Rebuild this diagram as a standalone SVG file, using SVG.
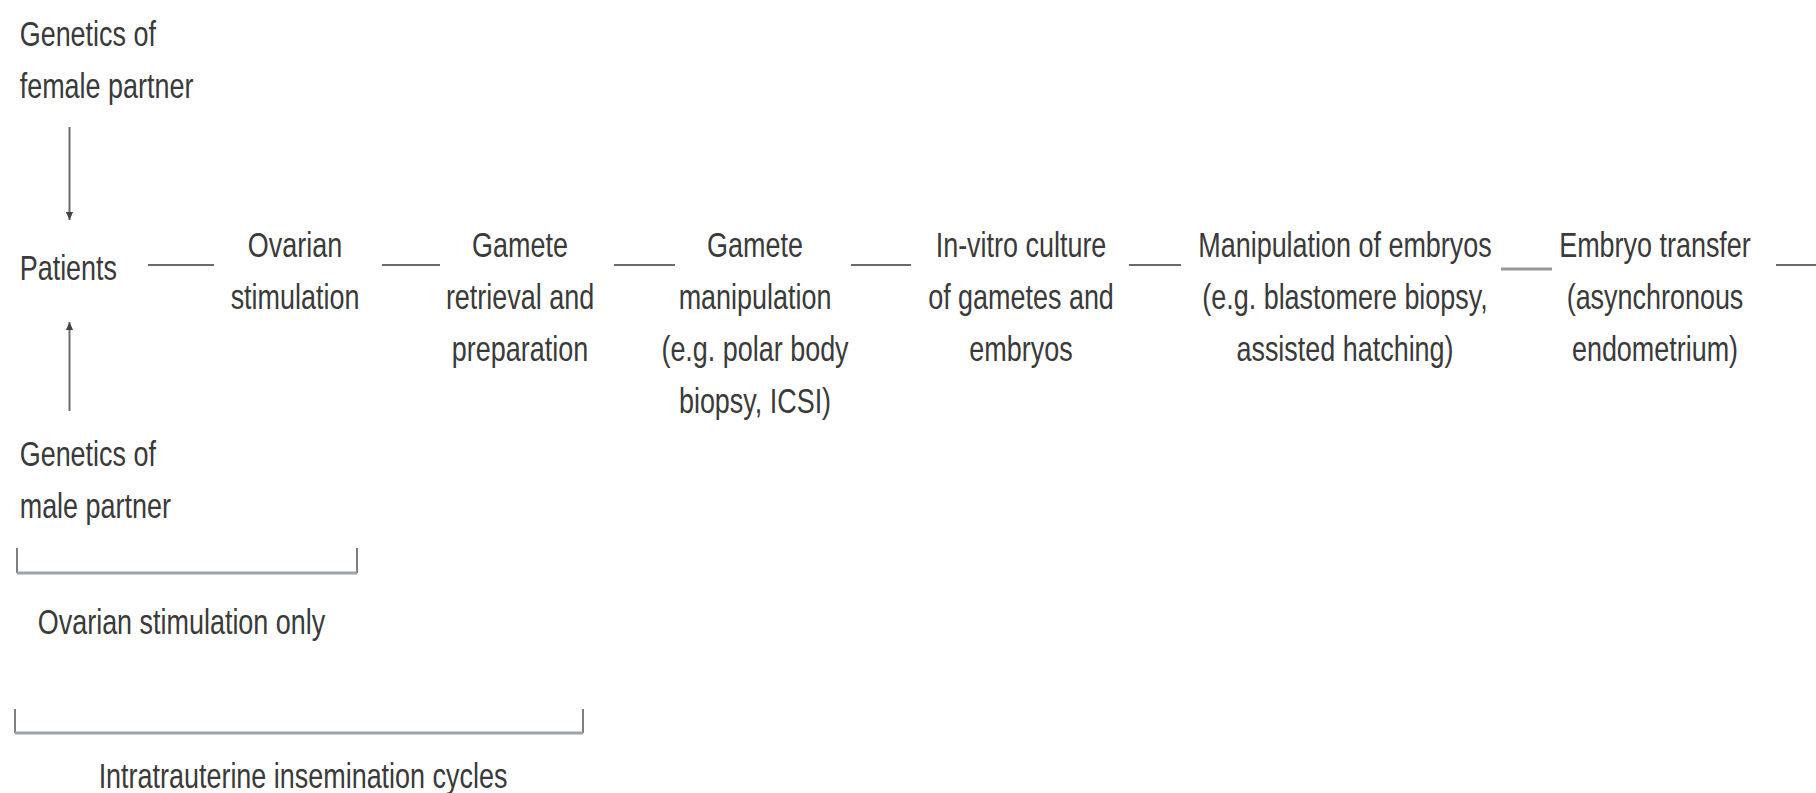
<svg xmlns="http://www.w3.org/2000/svg" width="1816" height="793" viewBox="0 0 1816 793">
<style>
text{font-family:"Liberation Sans",Arial,sans-serif;font-size:35px;fill:#3a3a3a}
.c{text-anchor:middle}
.ln{stroke:#6a6a6a;stroke-width:2;fill:none}
.br{stroke:#9aa3aa;stroke-width:3;fill:none}
.tk{stroke:#555;stroke-width:1.5;fill:none}
</style>
<defs>
<marker id="ah" viewBox="0 0 10 10" refX="10" refY="5" markerWidth="16" markerHeight="8" orient="auto" markerUnits="userSpaceOnUse">
<path d="M0,0.5 L10,5 L0,9.5 Z" fill="#444"/>
</marker>
</defs>
<rect width="1816" height="793" fill="#fff"/>
<g id="connectors">
<line class="ln" x1="69.5" y1="127" x2="69.5" y2="220" marker-end="url(#ah)"/>
<line class="ln" x1="69.5" y1="411" x2="69.5" y2="322" marker-end="url(#ah)"/>
<line class="ln" x1="148" y1="265" x2="214" y2="265"/>
<line class="ln" x1="382" y1="265" x2="440" y2="265"/>
<line class="ln" x1="614" y1="265" x2="675" y2="265"/>
<line class="ln" x1="851" y1="265" x2="911" y2="265"/>
<line class="ln" x1="1129" y1="265" x2="1181" y2="265"/>
<line class="ln" x1="1501" y1="269" x2="1552" y2="269" style="stroke:#999;stroke-width:3"/>
<line class="ln" x1="1776" y1="265" x2="1816" y2="265"/>
</g>
<g id="female"><text transform="translate(19.7,46) scale(0.77,1)"><tspan x="0">Genetics of</tspan><tspan x="0" dy="52">female partner</tspan></text></g>
<g id="patients"><text transform="translate(19.7,280) scale(0.77,1)">Patients</text></g>
<g id="male"><text transform="translate(19.7,466) scale(0.77,1)"><tspan x="0">Genetics of</tspan><tspan x="0" dy="52">male partner</tspan></text></g>
<g id="ovarian"><text class="c" transform="translate(295,257) scale(0.77,1)"><tspan x="0">Ovarian</tspan><tspan x="0" dy="52">stimulation</tspan></text></g>
<g id="retrieval"><text class="c" transform="translate(520,257) scale(0.77,1)"><tspan x="0">Gamete</tspan><tspan x="0" dy="52">retrieval and</tspan><tspan x="0" dy="52">preparation</tspan></text></g>
<g id="gamete-manip"><text class="c" transform="translate(755,257) scale(0.77,1)"><tspan x="0">Gamete</tspan><tspan x="0" dy="52">manipulation</tspan><tspan x="0" dy="52">(e.g. polar body</tspan><tspan x="0" dy="52">biopsy, ICSI)</tspan></text></g>
<g id="invitro"><text class="c" transform="translate(1021,257) scale(0.77,1)"><tspan x="0">In-vitro culture</tspan><tspan x="0" dy="52">of gametes and</tspan><tspan x="0" dy="52">embryos</tspan></text></g>
<g id="embryo-manip"><text class="c" transform="translate(1345,257) scale(0.77,1)"><tspan x="0">Manipulation of embryos</tspan><tspan x="0" dy="52">(e.g. blastomere biopsy,</tspan><tspan x="0" dy="52">assisted hatching)</tspan></text></g>
<g id="transfer"><text class="c" transform="translate(1655,257) scale(0.77,1)"><tspan x="0">Embryo transfer</tspan><tspan x="0" dy="52">(asynchronous</tspan><tspan x="0" dy="52">endometrium)</tspan></text></g>
<g id="bracket-ovarian">
<path class="tk" d="M17,548 V573 M357,548 V573"/>
<line class="br" x1="17" y1="573" x2="357" y2="573"/>
<text class="c" transform="translate(181.5,634) scale(0.77,1)">Ovarian stimulation only</text>
</g>
<g id="bracket-iui">
<path class="tk" d="M15,709 V733 M583,709 V733"/>
<line class="br" x1="15" y1="733" x2="583" y2="733"/>
<text class="c" transform="translate(303,788) scale(0.77,1)">Intratrauterine insemination cycles</text>
</g>
</svg>
